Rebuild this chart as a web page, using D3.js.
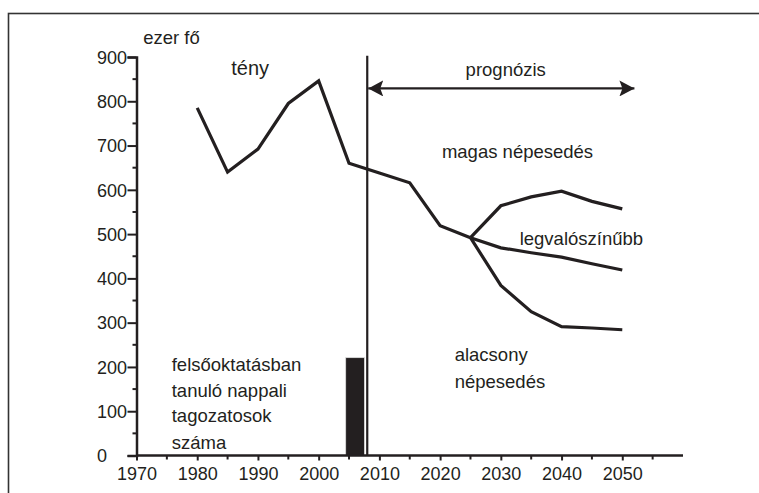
<!DOCTYPE html>
<html>
<head>
<meta charset="utf-8">
<script src="https://cdn.jsdelivr.net/npm/d3@7"></script>
<style>
  html, body { margin: 0; padding: 0; background: #fff; }
  svg { display: block; }
  .tick-label { font-family: "Liberation Sans Narrow", "Arial Narrow", "Liberation Sans", sans-serif; font-size: 18px; fill: #231f20; }
  .anno { font-family: "Liberation Sans", Arial, sans-serif; font-size: 18.5px; fill: #231f20; }
</style>
</head>
<body>
<script>
// ---- data ----
const factYears = [1980, 1985, 1990, 1995, 2000, 2005, 2010, 2015, 2020, 2025];
const factValues = [785, 640, 692, 795, 846, 660, 638, 616, 519, 492];
const forecastYears = [2025, 2030, 2035, 2040, 2045, 2050];
const highValues = [492, 564, 584, 597, 574, 557];
const likelyValues = [492, 469, 458, 448, 433, 419];
const lowValues = [492, 384, 325, 291, 288, 284];
const barYear = 2006;
const barValue = 221;
const dividerYear = 2008;
const arrowEndYear = 2052;
const arrowValue = 829;
const xTickLabels = [1970, 1980, 1990, 2000, 2010, 2020, 2030, 2040, 2050];
const yTickLabels = [0, 100, 200, 300, 400, 500, 600, 700, 800, 900];
const unitLabel = "ezer fő";
const annotations = [
  { text: "tény", year: 1985.6, value: 860, size: 20 },
  { text: "prognózis", year: 2024.2, value: 856 },
  { text: "magas népesedés", year: 2020.3, value: 672 },
  { text: "legvalószínűbb", year: 2033.1, value: 475 },
  { text: "alacsony", year: 2022.4, value: 214 },
  { text: "népesedés", year: 2022.4, value: 152 },
  { text: "felsőoktatásban", year: 1975.8, value: 191 },
  { text: "tanuló nappali", year: 1975.8, value: 133 },
  { text: "tagozatosok", year: 1975.8, value: 75 },
  { text: "száma", year: 1975.8, value: 14 }
];

// ---- layout ----
const W = 759, H = 493;
const ink = "#231f20";
const svg = d3.select("body").append("svg").attr("width", W).attr("height", H);

// frame (left and top edges visible)
svg.append("rect").attr("x", 8.5).attr("y", 13.5).attr("width", 800).attr("height", 600)
  .attr("fill", "none").attr("stroke", "#333").attr("stroke-width", 1.6);

const x = d3.scaleLinear().domain([1970, 2060]).range([136.5, 683]);
const y = d3.scaleLinear().domain([0, 900]).range([455.5, 57]);

// bar
const barHalf = 1.55;
svg.append("rect")
  .attr("x", x(barYear - barHalf)).attr("y", y(barValue))
  .attr("width", x(barYear + barHalf) - x(barYear - barHalf))
  .attr("height", y(0) - y(barValue))
  .attr("fill", ink).attr("stroke", "#ddd").attr("stroke-width", 0.8);

// y axis (labels left-aligned as in the reference)
const yAxisMajor = d3.axisLeft(y).tickValues(yTickLabels).tickSize(9).tickFormat(d3.format("d"));
const gy = svg.append("g").attr("transform", `translate(${x(1970)},0)`).call(yAxisMajor);
gy.select(".domain").attr("stroke", ink).attr("stroke-width", 2.5);
gy.selectAll(".tick line").attr("stroke", ink).attr("stroke-width", 2);
gy.selectAll(".tick text").attr("class", "tick-label")
  .attr("text-anchor", "start").attr("x", -39.5).attr("dy", "0.35em");
const yMinor = d3.range(50, 900, 100);
svg.append("g").selectAll("line").data(yMinor).join("line")
  .attr("x1", x(1970) - 4).attr("x2", x(1970)).attr("y1", d => y(d)).attr("y2", d => y(d))
  .attr("stroke", ink).attr("stroke-width", 2);

// x axis
const xAxisMajor = d3.axisBottom(x).tickValues(xTickLabels).tickSize(5).tickFormat(d3.format("d"));
const gx = svg.append("g").attr("transform", `translate(0,${y(0)})`).call(xAxisMajor);
gx.select(".domain").attr("stroke", ink).attr("stroke-width", 2.5).attr("d", `M${x(1970)},0H${x(2060)}`);
gx.selectAll(".tick line").attr("stroke", ink).attr("stroke-width", 2);
gx.selectAll(".tick text").attr("class", "tick-label").attr("y", 12).attr("dy", "0.71em");
const xMinor = d3.range(1975, 2060, 10);
svg.append("g").selectAll("line").data(xMinor).join("line")
  .attr("x1", d => x(d)).attr("x2", d => x(d)).attr("y1", y(0)).attr("y2", y(0) + 4)
  .attr("stroke", ink).attr("stroke-width", 2);

// divider
svg.append("line").attr("x1", x(dividerYear)).attr("x2", x(dividerYear))
  .attr("y1", y(903)).attr("y2", y(0)).attr("stroke", ink).attr("stroke-width", 2.2);

// lines
const line = d3.line().x(d => x(d[0])).y(d => y(d[1]));
const drawSeries = (yrs, vals) => svg.append("path")
  .datum(yrs.map((yr, i) => [yr, vals[i]]))
  .attr("d", line).attr("fill", "none").attr("stroke", ink)
  .attr("stroke-width", 3.2).attr("stroke-linejoin", "miter");
drawSeries(factYears, factValues);
drawSeries(forecastYears, highValues);
drawSeries(forecastYears, likelyValues);
drawSeries(forecastYears, lowValues);

// arrow
const defs = svg.append("defs");
defs.append("marker").attr("id", "ah").attr("viewBox", "0 0 15 16").attr("refX", 15).attr("refY", 8)
  .attr("markerWidth", 15).attr("markerHeight", 16).attr("markerUnits", "userSpaceOnUse")
  .attr("orient", "auto-start-reverse")
  .append("path").attr("d", "M0,0L15,8L0,16L3,8Z").attr("fill", ink);
svg.append("line").attr("x1", x(dividerYear) + 1).attr("x2", x(arrowEndYear))
  .attr("y1", y(arrowValue)).attr("y2", y(arrowValue))
  .attr("stroke", ink).attr("stroke-width", 2.2)
  .attr("marker-start", "url(#ah)").attr("marker-end", "url(#ah)");

// annotations
svg.append("text").attr("class", "anno").attr("x", x(1971.1)).attr("y", y(929)).text(unitLabel);
svg.append("g").selectAll("text").data(annotations).join("text")
  .attr("class", "anno")
  .attr("x", d => x(d.year)).attr("y", d => y(d.value))
  .style("font-size", d => d.size ? d.size + "px" : null)
  .text(d => d.text);
</script>
</body>
</html>
